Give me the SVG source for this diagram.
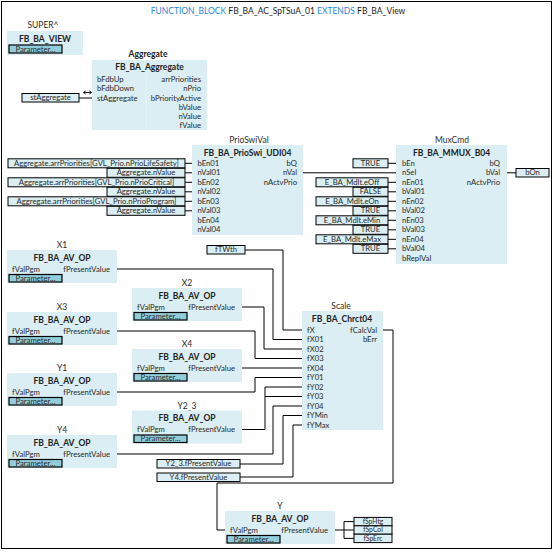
<svg xmlns="http://www.w3.org/2000/svg" width="556" height="552" viewBox="0 0 556 552">
<defs>
<style>
text{font-family:Lato,"Liberation Sans","DejaVu Sans",sans-serif;fill:#2a2a2a}
.lbl{font-size:8.5px;text-anchor:middle}
.ttl{font-size:8.5px;font-weight:bold;text-anchor:middle;fill:#222}
.pin{font-size:7.7px}
.sm{font-size:6.8px}
.r{text-anchor:end}
.m{text-anchor:middle}
.blk{fill:#DAEEF3}
.inbox{fill:#DAEEF3;stroke:#000;stroke-width:1}
.btn{fill:#92CDDC;stroke:#000;stroke-width:1.2}
.wire{fill:none;stroke:#000;stroke-width:1}
.kw{fill:#2B88D8}
</style>
</defs>
<rect x="1.5" y="1.5" width="550" height="547" fill="#fff" stroke="#000" stroke-width="1"/>
<text x="278" y="13.5" style="font-size:8.5px;text-anchor:middle;fill:#222"><tspan class="kw">FUNCTION_BLOCK</tspan> FB_BA_AC_SpTSuA_01 <tspan class="kw">EXTENDS</tspan> FB_BA_View</text>

<g id="connectors">
<path class="wire" d="M79 98H92"/>
<path d="M83.5 92.5H91.5M83.5 92.5l2.2-1.6M83.5 92.5l2.2 1.6M91.5 92.5l-2.2-1.6M91.5 92.5l-2.2 1.6" fill="none" stroke="#000" stroke-width="0.9"/>
<path class="wire" d="M185 163.3H192M185 172.8H192M185 182.3H192M185 191.8H192M185 201.3H192M185 210.8H192"/>
<path class="wire" d="M303 172.8H396"/>
<path class="wire" d="M388 163.3H396M388 182.3H396M388 191.8H396M388 201.3H396M388 210.8H396M388 220.3H396M388 229.8H396M388 239.3H396M388 248.8H396"/>
<path class="wire" d="M507 172.8H516"/>
<path class="wire" d="M245 250H283V330H302"/>
<path class="wire" d="M117 269H273V339.5H302"/>
<path class="wire" d="M242 307H264V349H302"/>
<path class="wire" d="M117 331H255V358.5H302"/>
<path class="wire" d="M242 368H302"/>
<path class="wire" d="M117 392H255V377.5H302"/>
<path class="wire" d="M242 429.5H265V387H302M265 396.5H302"/>
<path class="wire" d="M117 454H273V406H302"/>
<path class="wire" d="M240 464H283V415.5H302"/>
<path class="wire" d="M240 477H293V425H302"/>
<path class="wire" d="M383 330H393V483H217V530H225"/>
<path class="wire" d="M335 530H354M344 521.6V538.4M344 521.6H354M344 538.4H354"/>
</g>

<g id="super">
<text class="lbl" x="43" y="28">SUPER^</text>
<rect class="blk" x="7" y="31" width="76" height="24"/>
<text class="ttl" x="45" y="41.5">FB_BA_VIEW</text>
<rect class="btn" x="9" y="45" width="53" height="8"/>
<text class="pin m" x="35.5" y="51.6">Parameter...</text>
</g>

<g id="Aggregate">
<text class="ttl" x="148" y="57">Aggregate</text>
<rect class="blk" x="92" y="60" width="115" height="70"/>
<line x1="146" y1="73" x2="146" y2="130" stroke="#E6F3F7" stroke-width="1"/>
<text class="ttl" x="149.5" y="69.5">FB_BA_Aggregate</text>
<text class="pin" x="97" y="81.9">bFdbUp</text>
<text class="pin" x="97" y="91.2">bFdbDown</text>
<text class="pin" x="97" y="100.5">stAggregate</text>
<text class="pin r" x="201" y="81.9">arrPriorities</text>
<text class="pin r" x="201" y="91.2">nPrio</text>
<text class="pin r" x="201" y="100.5">bPriorityActive</text>
<text class="pin r" x="201" y="109.8">bValue</text>
<text class="pin r" x="201" y="119.1">nValue</text>
<text class="pin r" x="201" y="128.4">fValue</text>
</g>

<g id="stAggregate">
<rect class="inbox" x="22" y="93.5" width="57" height="8.5"/>
<text class="pin m" x="50.5" y="100.4">stAggregate</text>
</g>

<g id="PrioSwiVal">
<text class="lbl" x="249" y="143">PrioSwiVal</text>
<rect class="blk" x="192" y="145" width="111" height="90"/>
<text class="ttl" x="247.5" y="155.5">FB_BA_PrioSwi_UDI04</text>
<text class="pin" x="197.5" y="165.9">bEn01</text>
<text class="pin" x="197.5" y="175.4">nVal01</text>
<text class="pin" x="197.5" y="184.9">bEn02</text>
<text class="pin" x="197.5" y="194.4">nVal02</text>
<text class="pin" x="197.5" y="203.9">bEn03</text>
<text class="pin" x="197.5" y="213.4">nVal03</text>
<text class="pin" x="197.5" y="222.9">bEn04</text>
<text class="pin" x="197.5" y="232.4">nVal04</text>
<text class="pin r" x="297" y="165.9">bQ</text>
<text class="pin r" x="297" y="175.4">nVal</text>
<text class="pin r" x="297" y="184.9">nActvPrio</text>
</g>

<g id="PrioInputs">
<rect class="inbox" x="8" y="158.8" width="177" height="9"/>
<text class="pin m" x="96.5" y="165.9">Aggregate.arrPriorities[GVL_Prio.nPrioLifeSafety]</text>
<rect class="inbox" x="107" y="168.3" width="78" height="9"/>
<text class="pin m" x="146" y="175.4">Aggregate.nValue</text>
<rect class="inbox" x="8" y="177.8" width="177" height="9"/>
<text class="pin m" x="96.5" y="184.9">Aggregate.arrPriorities[GVL_Prio.nPrioCritical]</text>
<rect class="inbox" x="107" y="187.3" width="78" height="9"/>
<text class="pin m" x="146" y="194.4">Aggregate.nValue</text>
<rect class="inbox" x="8" y="196.8" width="177" height="9"/>
<text class="pin m" x="96.5" y="203.9">Aggregate.arrPriorities[GVL_Prio.nPrioProgram]</text>
<rect class="inbox" x="107" y="206.3" width="78" height="9"/>
<text class="pin m" x="146" y="213.4">Aggregate.nValue</text>
</g>

<g id="MuxCmd">
<text class="lbl" x="452" y="143">MuxCmd</text>
<rect class="blk" x="396" y="145" width="111" height="119"/>
<text class="ttl" x="451.5" y="155.5">FB_BA_MMUX_B04</text>
<text class="pin" x="402" y="165.9">bEn</text>
<text class="pin" x="402" y="175.4">nSel</text>
<text class="pin" x="402" y="184.9">nEn01</text>
<text class="pin" x="402" y="194.4">bVal01</text>
<text class="pin" x="402" y="203.9">nEn02</text>
<text class="pin" x="402" y="213.4">bVal02</text>
<text class="pin" x="402" y="222.9">nEn03</text>
<text class="pin" x="402" y="232.4">bVal03</text>
<text class="pin" x="402" y="241.9">nEn04</text>
<text class="pin" x="402" y="251.4">bVal04</text>
<text class="pin" x="402" y="260.9">bReplVal</text>
<text class="pin r" x="500" y="165.9">bQ</text>
<text class="pin r" x="500" y="175.4">bVal</text>
<text class="pin r" x="500" y="184.9">nActvPrio</text>
</g>

<g id="MuxInputs">
<rect class="inbox" x="353" y="158.8" width="35" height="9"/>
<text class="pin m" x="370.5" y="165.9">TRUE</text>
<rect class="inbox" x="316" y="177.8" width="72" height="9"/>
<text class="pin m" x="352" y="184.9">E_BA_Mdlt.eOff</text>
<rect class="inbox" x="353" y="187.3" width="35" height="9"/>
<text class="pin m" x="370.5" y="194.4">FALSE</text>
<rect class="inbox" x="316" y="196.8" width="72" height="9"/>
<text class="pin m" x="352" y="203.9">E_BA_Mdlt.eOn</text>
<rect class="inbox" x="353" y="206.3" width="35" height="9"/>
<text class="pin m" x="370.5" y="213.4">TRUE</text>
<rect class="inbox" x="316" y="215.8" width="72" height="9"/>
<text class="pin m" x="352" y="222.9">E_BA_Mdlt.eMin</text>
<rect class="inbox" x="353" y="225.3" width="35" height="9"/>
<text class="pin m" x="370.5" y="232.4">TRUE</text>
<rect class="inbox" x="316" y="234.8" width="72" height="9"/>
<text class="pin m" x="352" y="241.9">E_BA_Mdlt.eMax</text>
<rect class="inbox" x="353" y="244.3" width="35" height="9"/>
<text class="pin m" x="370.5" y="251.4">TRUE</text>
</g>

<g id="bOn">
<rect class="inbox" x="516" y="168.5" width="33" height="8.5"/>
<text class="pin m" x="532.5" y="175.4">bOn</text>
</g>

<g id="fTWth">
<rect class="inbox" x="207" y="245.5" width="38" height="8.5"/>
<text class="pin m" x="226" y="252.4">fTWth</text>
</g>

<g id="X1">
<text class="lbl" x="62" y="248">X1</text>
<rect class="blk" x="7" y="250" width="110" height="33"/>
<text class="ttl" x="62" y="260.5">FB_BA_AV_OP</text>
<text class="pin" x="12" y="271.6">fValPgm</text>
<text class="pin r" x="110" y="271.6">fPresentValue</text>
<rect class="btn" x="9" y="274.5" width="53" height="7.5"/>
<text class="pin m" x="35.5" y="280.8">Parameter...</text>
</g>

<g id="X2">
<text class="lbl" x="187" y="286">X2</text>
<rect class="blk" x="132" y="288" width="110" height="33"/>
<text class="ttl" x="187" y="298.5">FB_BA_AV_OP</text>
<text class="pin" x="137" y="309.6">fValPgm</text>
<text class="pin r" x="235" y="309.6">fPresentValue</text>
<rect class="btn" x="134" y="312.5" width="53" height="7.5"/>
<text class="pin m" x="160.5" y="318.8">Parameter...</text>
</g>

<g id="X3">
<text class="lbl" x="62" y="310">X3</text>
<rect class="blk" x="7" y="312" width="110" height="33"/>
<text class="ttl" x="62" y="322.5">FB_BA_AV_OP</text>
<text class="pin" x="12" y="333.6">fValPgm</text>
<text class="pin r" x="110" y="333.6">fPresentValue</text>
<rect class="btn" x="9" y="336.5" width="53" height="7.5"/>
<text class="pin m" x="35.5" y="342.8">Parameter...</text>
</g>

<g id="X4">
<text class="lbl" x="187" y="347">X4</text>
<rect class="blk" x="132" y="349" width="110" height="33"/>
<text class="ttl" x="187" y="359.5">FB_BA_AV_OP</text>
<text class="pin" x="137" y="370.6">fValPgm</text>
<text class="pin r" x="235" y="370.6">fPresentValue</text>
<rect class="btn" x="134" y="373.5" width="53" height="7.5"/>
<text class="pin m" x="160.5" y="379.8">Parameter...</text>
</g>

<g id="Y1">
<text class="lbl" x="62" y="371">Y1</text>
<rect class="blk" x="7" y="373" width="110" height="33"/>
<text class="ttl" x="62" y="383.5">FB_BA_AV_OP</text>
<text class="pin" x="12" y="394.6">fValPgm</text>
<text class="pin r" x="110" y="394.6">fPresentValue</text>
<rect class="btn" x="9" y="397.5" width="53" height="7.5"/>
<text class="pin m" x="35.5" y="403.8">Parameter...</text>
</g>

<g id="Y2_3">
<text class="lbl" x="187" y="408.5">Y2_3</text>
<rect class="blk" x="132" y="410.5" width="110" height="33"/>
<text class="ttl" x="187" y="421">FB_BA_AV_OP</text>
<text class="pin" x="137" y="432.1">fValPgm</text>
<text class="pin r" x="235" y="432.1">fPresentValue</text>
<rect class="btn" x="134" y="435" width="53" height="7.5"/>
<text class="pin m" x="160.5" y="441.3">Parameter...</text>
</g>

<g id="Y4">
<text class="lbl" x="62" y="433">Y4</text>
<rect class="blk" x="7" y="435" width="110" height="33"/>
<text class="ttl" x="62" y="445.5">FB_BA_AV_OP</text>
<text class="pin" x="12" y="456.6">fValPgm</text>
<text class="pin r" x="110" y="456.6">fPresentValue</text>
<rect class="btn" x="9" y="459.5" width="53" height="7.5"/>
<text class="pin m" x="35.5" y="465.8">Parameter...</text>
</g>

<g id="Y2_3_fPresentValue">
<rect class="inbox" x="157" y="459.5" width="83" height="8.5"/>
<text class="pin m" x="198.5" y="466.4">Y2_3.fPresentValue</text>
</g>
<g id="Y4_fPresentValue">
<rect class="inbox" x="157" y="473" width="83" height="8.5"/>
<text class="pin m" x="198.5" y="479.9">Y4.fPresentValue</text>
</g>

<g id="Scale">
<text class="lbl" x="341" y="309">Scale</text>
<rect class="blk" x="302" y="311" width="81" height="119"/>
<text class="ttl" x="342" y="321.5">FB_BA_Chrct04</text>
<text class="pin" x="307" y="332.6">fX</text>
<text class="pin" x="307" y="342.1">fX01</text>
<text class="pin" x="307" y="351.6">fX02</text>
<text class="pin" x="307" y="361.1">fX03</text>
<text class="pin" x="307" y="370.6">fX04</text>
<text class="pin" x="307" y="380.1">fY01</text>
<text class="pin" x="307" y="389.6">fY02</text>
<text class="pin" x="307" y="399.1">fY03</text>
<text class="pin" x="307" y="408.6">fY04</text>
<text class="pin" x="307" y="418.1">fYMin</text>
<text class="pin" x="307" y="427.6">fYMax</text>
<text class="pin r" x="377" y="332.6">fCalcVal</text>
<text class="pin r" x="377" y="342.1">bErr</text>
</g>

<g id="Y">
<text class="lbl" x="280" y="509">Y</text>
<rect class="blk" x="225" y="511" width="110" height="33"/>
<text class="ttl" x="280" y="521.5">FB_BA_AV_OP</text>
<text class="pin" x="230" y="532.6">fValPgm</text>
<text class="pin r" x="328" y="532.6">fPresentValue</text>
<rect class="btn" x="227" y="535.5" width="53" height="7.5"/>
<text class="pin m" x="253.5" y="541.8">Parameter...</text>
</g>

<g id="Outputs">
<rect class="inbox" x="354" y="517.4" width="38" height="8.4"/>
<text class="pin sm m" x="373" y="523.9">fSpHtg</text>
<rect class="inbox" x="354" y="525.8" width="38" height="8.4"/>
<text class="pin sm m" x="373" y="532.3">fSpCol</text>
<rect class="inbox" x="354" y="534.2" width="38" height="8.4"/>
<text class="pin sm m" x="373" y="540.7">fSpErc</text>
</g>
</svg>
